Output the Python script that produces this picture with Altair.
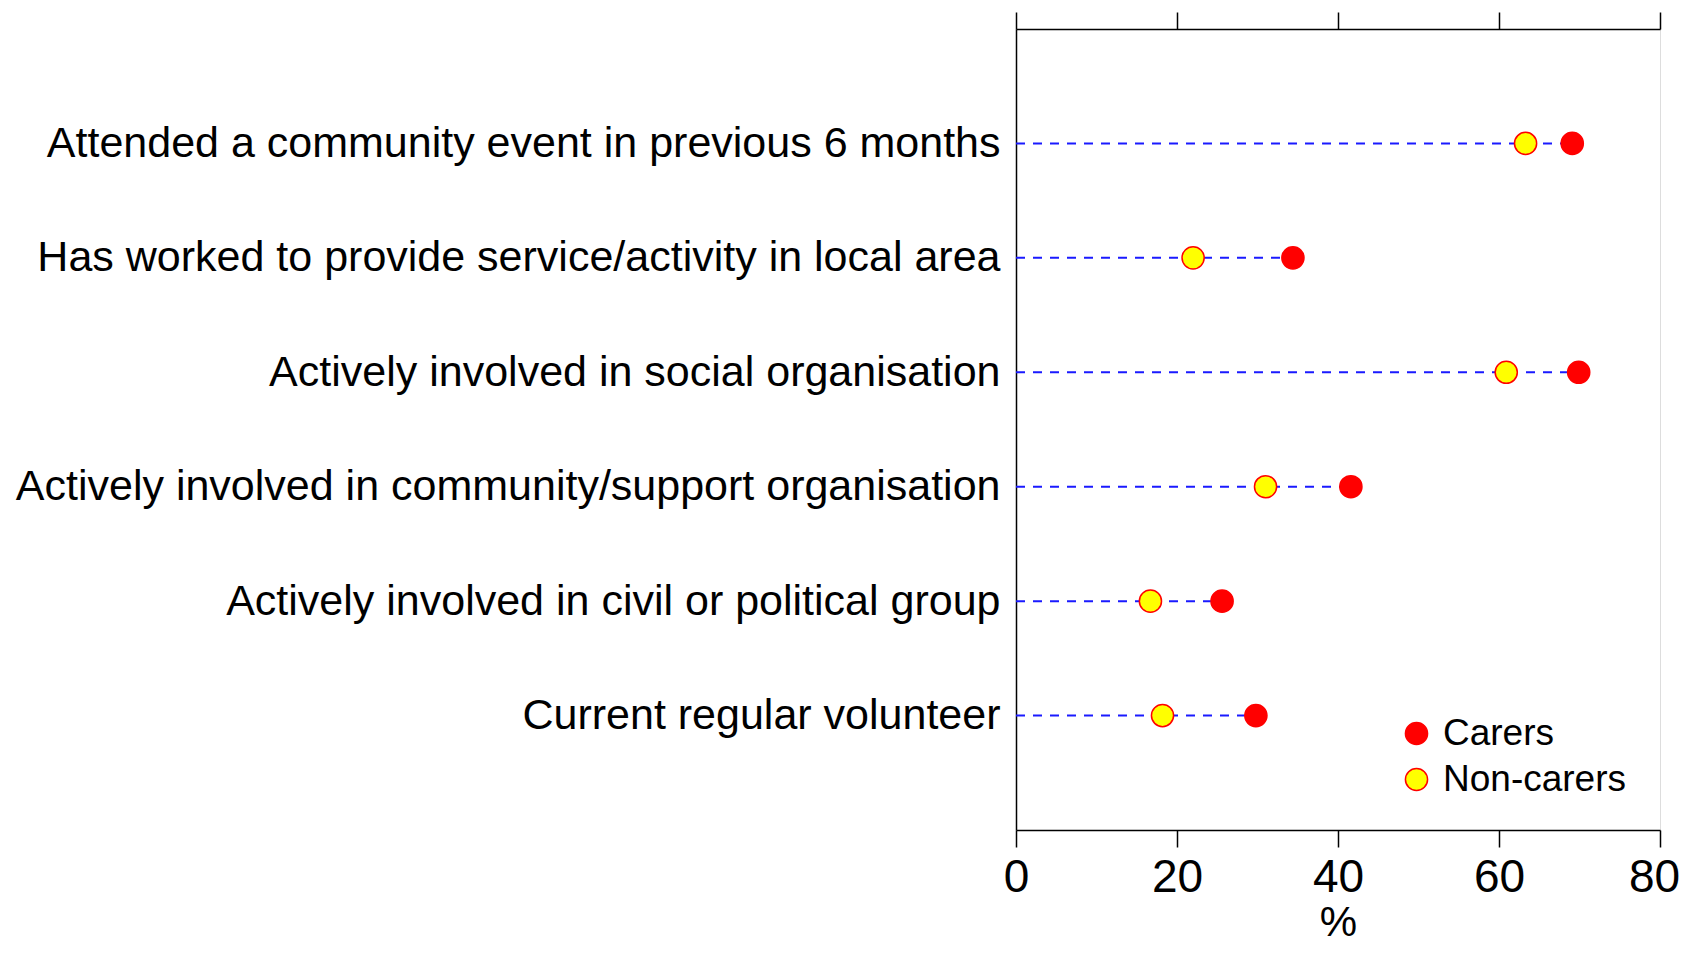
import altair as alt
import pandas as pd

categories = [
    "Attended a community event in previous 6 months",
    "Has worked to provide service/activity in local area",
    "Actively involved in social organisation",
    "Actively involved in community/support organisation",
    "Actively involved in civil or political group",
    "Current regular volunteer",
]
carers = [69.1, 34.4, 69.9, 41.6, 25.6, 29.8]
non_carers = [63.3, 22.0, 60.9, 31.0, 16.7, 18.2]
groups = ["Carers", "Non-carers"]
group_colors = ["#ff0000", "#ffff00"]
x_ticks = [0, 20, 40, 60, 80]

wide = pd.DataFrame({"category": categories, "carers": carers, "non_carers": non_carers})
long_rows = []
for c, a, b in zip(categories, carers, non_carers):
    long_rows.append({"category": c, "group": "Non-carers", "value": b})
    long_rows.append({"category": c, "group": "Carers", "value": a})
long = pd.DataFrame(long_rows)

FONT = "Liberation Sans"

xscale = alt.Scale(domain=[0, 80], nice=False, zero=True)
yenc = alt.Y(
    "category:N",
    sort=categories,
    scale=alt.Scale(type="point", padding=1),
    axis=alt.Axis(
        title=None, ticks=False, domain=True, domainColor="black", domainWidth=1.5,
        labelFont=FONT, labelFontSize=43, labelColor="black", labelPadding=16,
        labelLimit=0,
    ),
)

rules = alt.Chart(wide).mark_rule(
    color="#1a1aff", strokeDash=[9, 8], strokeWidth=2
).encode(
    x=alt.X(
        "zero_start:Q", scale=xscale,
        axis=alt.Axis(orient="top", labels=False, title=None, values=x_ticks,
                      tickSize=17, tickColor="black", tickWidth=1.5,
                      domainColor="black", domainWidth=1.5, grid=False),
    ),
    x2="carers:Q",
    y=yenc,
).transform_calculate(zero_start="0")

points = alt.Chart(long).mark_point(
    filled=True, shape="circle", size=490, stroke="#ff0000", strokeWidth=1.5, opacity=1
).encode(
    x=alt.X(
        "value:Q", scale=xscale,
        axis=alt.Axis(orient="bottom", values=x_ticks, tickSize=17, tickColor="black",
                      tickWidth=1.5, domainColor="black", domainWidth=1.5, grid=False,
                      labelFont=FONT, labelFontSize=46, labelColor="black",
                      labelFlush=False, labelPadding=8,
                      labelOffset={"condition": {"test": "datum.value == 80", "value": -6},
                                   "value": 0},
                      title="%", titleFont=FONT,
                      titleFontSize=42, titleFontWeight="normal", titleColor="black",
                      titlePadding=2),
    ),
    y=yenc,
    fill=alt.Fill(
        "group:N",
        scale=alt.Scale(domain=groups, range=group_colors),
        legend=alt.Legend(
            title=None, orient="none", legendX=382, legendY=686,
            labelFont=FONT, labelFontSize=37, labelColor="black", labelLimit=0,
            symbolSize=490, symbolType="circle", symbolStrokeColor="#ff0000",
            symbolStrokeWidth=1.5, labelOffset=8, rowPadding=8, padding=0,
            symbolOpacity=1,
        ),
    ),
)

chart = alt.layer(rules, points).resolve_axis(x="independent").properties(
    width=644, height=801,
    autosize=alt.AutoSizeParams(type="none"),
    padding={"left": 1008, "top": 21, "right": 22, "bottom": 118},
).configure_view(
    stroke="black", strokeWidth=1.5
).configure(background="white")

chart.save("out.html", embed_options={"renderer": "svg", "actions": False})
